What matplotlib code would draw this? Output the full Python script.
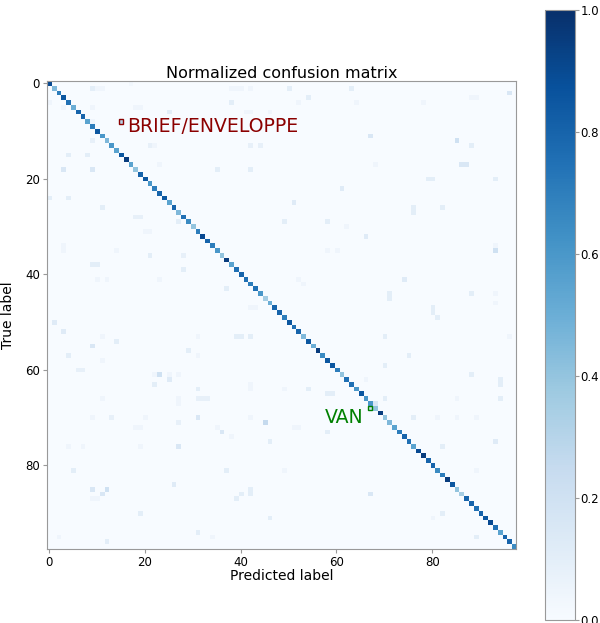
import numpy as np
import matplotlib
matplotlib.use("Agg")
import matplotlib.pyplot as plt
from matplotlib.patches import Rectangle

# number of classes and per-class recall (diagonal of the normalized matrix)
n_classes = 98
diag_values = [0.9, 0.45, 0.7, 0.85, 0.75, 0.5, 0.8, 0.8, 0.55, 0.7,
               0.85, 0.6, 0.45, 0.6, 0.55, 0.85, 0.95, 0.55, 0.4, 0.8,
               0.85, 0.6, 0.7, 0.8, 0.85, 0.55, 0.8, 0.45, 0.75, 0.65,
               0.4, 0.7, 0.9, 0.8, 0.7, 0.6, 0.4, 0.95, 0.55, 0.75,
               0.8, 0.75, 0.7, 0.75, 0.6, 0.35, 0.5, 0.8, 0.8, 0.7,
               0.85, 0.75, 0.8, 0.45, 0.85, 0.5, 0.95, 0.65, 0.85, 0.85,
               0.7, 0.4, 0.75, 0.75, 0.6, 0.85, 0.6, 0.6, 0.4, 0.95,
               0.4, 0.45, 0.55, 0.7, 0.8, 0.75, 0.55, 0.9, 0.95, 0.8,
               0.8, 0.65, 0.7, 0.95, 0.85, 0.4, 0.35, 0.8, 0.8, 0.75,
               0.8, 0.85, 0.9, 0.75, 0.55, 0.8, 0.8, 0.65]

# off-diagonal confusions (true row, predicted col, fraction)
off_rows = [1, 1, 1, 1, 1, 1, 1, 0, 4, 4, 5, 5, 5, 5, 6, 6, 6, 6, 8, 12,
            13, 13, 13, 13, 15, 15, 18, 18, 17, 18, 18, 24, 24, 26, 28, 28, 29, 31, 31, 34,
            35, 35, 36, 36, 38, 38, 39, 41, 41, 41, 43, 47, 47,
            1, 1, 2, 3, 4, 4, 4, 3, 3, 11, 12, 13, 17, 17, 17, 20, 20, 20,
            22, 25, 26, 26, 27, 29, 29, 30, 32, 35, 34, 35, 35, 41, 41, 42, 44, 45, 44, 46, 44, 47,
            50, 52, 55, 54, 53, 53, 53, 53, 53, 57, 56, 57, 58, 60, 60, 61, 61, 61, 61, 62, 63,
            64, 64, 63, 66, 66, 66, 66, 67, 66, 70, 70, 70, 70, 71, 71, 70, 72, 72, 73, 72, 74, 75,
            76, 76, 76, 76, 81, 81, 84, 85, 85, 86, 87, 87, 86, 87, 85, 86, 90, 91, 94, 95, 95, 96,
            48, 49, 53, 57, 59, 61, 62, 63, 62, 64, 64, 65, 65, 66, 66, 66, 70, 70, 70, 70,
            73, 72, 72, 75, 76, 81, 81, 86, 90, 91, 95, 53, 67, 68, 8]
off_cols = [9, 10, 11, 38, 39, 40, 42, 17, 0, 38, 3, 9, 18, 19, 25, 41, 42, 46, 9, 9,
            21, 22, 42, 44, 4, 8, 3, 9, 23, 35, 42, 0, 4, 11, 18, 19, 27, 20, 21, 3,
            3, 14, 21, 28, 9, 10, 28, 10, 12, 23, 37, 42, 43,
            50, 63, 96, 54, 52, 78, 64, 88, 89, 67, 85, 88, 86, 87, 68, 79, 80, 93,
            61, 51, 82, 76, 76, 49, 58, 62, 66, 93, 93, 58, 60, 74, 52, 53, 71, 71, 88, 93, 93, 80,
            1, 3, 9, 14, 11, 31, 39, 40, 42, 4, 29, 31, 11, 6, 7, 23, 22, 25, 27, 25, 22,
            31, 42, 42, 31, 32, 33, 27, 27, 11, 31, 9, 13, 20, 27, 45, 42, 18, 19, 36, 35, 38, 46,
            27, 4, 7, 19, 5, 37, 26, 9, 12, 11, 9, 10, 40, 39, 42, 42, 19, 46, 31, 34, 2, 12,
            80, 81, 70, 75, 70, 88, 94, 94, 66, 54, 49, 58, 59, 70, 85, 94, 76, 81, 85, 89,
            58, 51, 52, 93, 82, 89, 49, 67, 82, 80, 89, 96, 68, 67, 15]
off_vals = [0.1, 0.04, 0.04, 0.04, 0.04, 0.04, 0.04, 0.03, 0.04, 0.1, 0.04, 0.04, 0.04, 0.04, 0.1, 0.04, 0.04, 0.04, 0.04, 0.08,
            0.08, 0.04, 0.08, 0.08, 0.1, 0.1, 0.15, 0.15, 0.04, 0.1, 0.1, 0.1, 0.1, 0.1, 0.08, 0.08, 0.1, 0.04, 0.04, 0.04,
            0.04, 0.04, 0.1, 0.08, 0.1, 0.1, 0.1, 0.04, 0.04, 0.04, 0.1, 0.04, 0.04,
            0.1, 0.1, 0.15, 0.1, 0.04, 0.04, 0.04, 0.04, 0.04, 0.15, 0.2, 0.1, 0.15, 0.15, 0.04, 0.1, 0.1, 0.1,
            0.12, 0.12, 0.1, 0.1, 0.1, 0.1, 0.1, 0.04, 0.12, 0.2, 0.04, 0.04, 0.04, 0.12, 0.04, 0.04, 0.1, 0.1, 0.1, 0.04, 0.04, 0.1,
            0.12, 0.12, 0.15, 0.1, 0.04, 0.04, 0.1, 0.1, 0.1, 0.1, 0.1, 0.04, 0.04, 0.08, 0.08, 0.2, 0.04, 0.04, 0.04, 0.12, 0.1,
            0.1, 0.04, 0.04, 0.08, 0.08, 0.08, 0.04, 0.04, 0.04, 0.15, 0.04, 0.08, 0.04, 0.08, 0.25, 0.04, 0.04, 0.04, 0.15, 0.04, 0.04, 0.1,
            0.15, 0.04, 0.04, 0.04, 0.1, 0.1, 0.12, 0.15, 0.2, 0.15, 0.04, 0.04, 0.1, 0.1, 0.1, 0.1, 0.1, 0.1, 0.1, 0.04, 0.04, 0.1,
            0.1, 0.1, 0.1, 0.1, 0.1, 0.1, 0.1, 0.1, 0.04, 0.1, 0.04, 0.1, 0.1, 0.1, 0.04, 0.1, 0.1, 0.04, 0.04, 0.04,
            0.1, 0.04, 0.04, 0.12, 0.1, 0.04, 0.04, 0.15, 0.1, 0.04, 0.1, 0.04, 0.15, 0.2, 0.3]

# highlighted classes: (row, col), label, colour
highlights = [((8, 15), "BRIEF/ENVELOPPE", "#8b0000"),
              ((68, 67), "VAN", "#008000")]

cm = np.zeros((n_classes, n_classes))
cm[np.arange(n_classes), np.arange(n_classes)] = diag_values
for r, c, v in zip(off_rows, off_cols, off_vals):
    cm[r, c] = v

fig = plt.figure(figsize=(6, 6.23), dpi=100)
ax = fig.add_axes([0.078, 0.119, 0.782, 0.751])
im = ax.imshow(cm, interpolation="nearest", cmap=plt.cm.Blues,
               vmin=0, vmax=1, aspect="auto")
ax.set_title("Normalized confusion matrix", fontsize=11.5, pad=2)
ax.set_xlabel("Predicted label", fontsize=10, labelpad=0)
ax.set_ylabel("True label", fontsize=10, labelpad=7)
ax.set_xticks([0, 20, 40, 60, 80])
ax.set_yticks([0, 20, 40, 60, 80])
ax.tick_params(labelsize=8.5, length=3, color="#999999", pad=2)
for s in ax.spines.values():
    s.set_color("#999999")

# mark the two classes of interest
(r1, c1), t1, col1 = highlights[0]
ax.add_patch(Rectangle((c1 - 0.5, r1 - 0.5), 1, 1, fill=False, edgecolor=col1, lw=1))
ax.text(c1 + 1.3, r1 + 1, t1, color=col1, fontsize=13.6, ha="left", va="center")
(r2, c2), t2, col2 = highlights[1]
ax.add_patch(Rectangle((c2 - 0.5, r2 - 0.5), 1, 1, fill=False, edgecolor=col2, lw=1))
ax.text(c2 - 1.4, r2 + 2, t2, color=col2, fontsize=13.6, ha="right", va="center")

cax = fig.add_axes([0.908, 0.005, 0.05, 0.979])
cb = fig.colorbar(im, cax=cax)
cb.set_ticks([0.0, 0.2, 0.4, 0.6, 0.8, 1.0])
cb.ax.tick_params(labelsize=8.5, length=3, color="#999999", pad=1)
cb.outline.set_edgecolor("#999999")

fig.savefig("out.png", dpi=100)
